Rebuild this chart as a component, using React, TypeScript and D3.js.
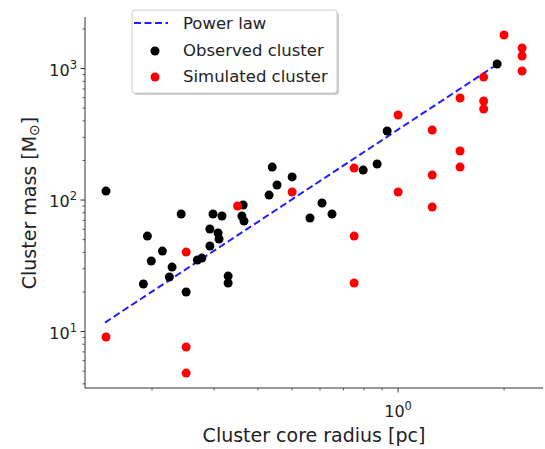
import React from "react";
import * as d3 from "d3";

const observedRadius = [0.148, 0.189, 0.194, 0.199, 0.214, 0.224, 0.228, 0.242, 0.25, 0.269, 0.277, 0.292, 0.292, 0.298, 0.308, 0.31, 0.316, 0.329, 0.329, 0.363, 0.36, 0.365, 0.43, 0.439, 0.453, 0.5, 0.562, 0.608, 0.649, 0.796, 0.872, 0.931, 1.911];
const observedMass = [117, 23.0, 53.2, 34.4, 40.9, 26.0, 30.9, 78.3, 20.0, 35.0, 36.2, 60.2, 44.7, 78.3, 56.1, 50.5, 75.6, 26.4, 23.4, 91.6, 75.6, 69.2, 109, 178, 130, 150, 73, 94.9, 78.3, 169, 188, 335, 1082];

const simulatedRadius = [0.148, 0.25, 0.25, 0.25, 0.35, 0.5, 0.75, 0.75, 0.75, 1.0, 1.0, 1.25, 1.25, 1.25, 1.5, 1.5, 1.5, 1.75, 1.75, 1.75, 2.0, 2.25, 2.25, 2.25];
const simulatedMass = [9.08, 7.62, 4.83, 40.2, 90.0, 115, 175, 53.2, 23.4, 443, 115, 341, 155, 88.5, 597, 236, 178, 861, 566, 492, 1798, 1432, 1245, 957];

const powerLawRadius = [0.147, 1.89];
const powerLawMass = [11.7, 1055];

const xMajorTicks = [1];
const xMinorTicks = [0.2, 0.3, 0.4, 0.5, 0.6, 0.7, 0.8, 0.9, 2];
const yMajorTicks = [10, 100, 1000];
const yMinorTicks = [4, 5, 6, 7, 8, 9, 20, 30, 40, 50, 60, 70, 80, 90, 200, 300, 400, 500, 600, 700, 800, 900, 2000];

const W = 545;
const H = 449;
const left = 85;
const right = 543;
const top = 17;
const bottom = 388;

const FONT = "'DejaVu Sans', sans-serif";

export default function App() {
  const x = d3.scaleLog().domain([0.129, 2.58]).range([left, right]);
  const y = d3.scaleLog().domain([3.72, 2466]).range([bottom, top]);

  const line = d3
    .line<number>()
    .x((_, i) => x(powerLawRadius[i]))
    .y((_, i) => y(powerLawMass[i]));

  const exps: Record<number, string> = { 1: "0", 10: "1", 100: "2", 1000: "3" };

  return (
    <svg
      width={W}
      height={H}
      style={{ position: "absolute", left: 0, top: 0, background: "#fff", display: "block" }}
      fontFamily={FONT}
    >
      <rect x={0} y={0} width={W} height={H} fill="#fff" />

      {/* power law */}
      <path
        d={line(powerLawRadius) || ""}
        fill="none"
        stroke="#1f1fff"
        strokeWidth={2}
        strokeDasharray="7,3.5"
      />

      {/* observed */}
      {observedRadius.map((r, i) => (
        <circle key={"o" + i} cx={x(r)} cy={y(observedMass[i])} r={4.5} fill="#000" />
      ))}
      {/* simulated */}
      {simulatedRadius.map((r, i) => (
        <circle key={"s" + i} cx={x(r)} cy={y(simulatedMass[i])} r={4.5} fill="#ff0000" />
      ))}

      {/* axes */}
      <line x1={left} x2={left} y1={top} y2={bottom} stroke="#333" strokeWidth={1} />
      <line x1={left} x2={right} y1={bottom} y2={bottom} stroke="#333" strokeWidth={1} />

      {yMajorTicks.map((t) => (
        <g key={"ym" + t}>
          <line x1={left - 4.5} x2={left} y1={y(t)} y2={y(t)} stroke="#333" strokeWidth={1} />
          <text x={left - 8} y={y(t) + 7} textAnchor="end" fontSize={16} fill="#222">
            10
            <tspan fontSize={11.5} dy={-7}>
              {exps[t]}
            </tspan>
          </text>
        </g>
      ))}
      {yMinorTicks.map((t) => (
        <line key={"yn" + t} x1={left - 2.5} x2={left} y1={y(t)} y2={y(t)} stroke="#333" strokeWidth={0.8} />
      ))}

      {xMajorTicks.map((t) => (
        <g key={"xm" + t}>
          <line x1={x(t)} x2={x(t)} y1={bottom} y2={bottom + 4.5} stroke="#333" strokeWidth={1} />
          <text x={x(t)} y={bottom + 29} textAnchor="middle" fontSize={16} fill="#222">
            10
            <tspan fontSize={11.5} dy={-7}>
              {exps[t]}
            </tspan>
          </text>
        </g>
      ))}
      {xMinorTicks.map((t) => (
        <line key={"xn" + t} x1={x(t)} x2={x(t)} y1={bottom} y2={bottom + 2.5} stroke="#333" strokeWidth={0.8} />
      ))}

      {/* axis labels */}
      <text x={314} y={442} textAnchor="middle" fontSize={19} fill="#222">
        Cluster core radius [pc]
      </text>
      <text transform={`translate(36,203) rotate(-90)`} textAnchor="middle" fontSize={19} fill="#222">
        Cluster mass [M
        <tspan fontSize={14} dy={3}>
          ⊙
        </tspan>
        <tspan dy={-3}>]</tspan>
      </text>

      {/* legend */}
      <g>
        <rect x={134} y={12} width={205} height={83} rx={3} fill="#999" opacity={0.5} />
        <rect x={132} y={10} width={205} height={83} rx={3} fill="#fff" stroke="#ccc" strokeWidth={1} />
        <line x1={134} x2={168} y1={23} y2={23} stroke="#1f1fff" strokeWidth={2} strokeDasharray="7,3.5" />
        <text x={183} y={29} fontSize={16.5} fill="#222">
          Power law
        </text>
        <circle cx={155} cy={51} r={4.5} fill="#000" />
        <text x={183} y={56} fontSize={16.5} fill="#222">
          Observed cluster
        </text>
        <circle cx={155} cy={77} r={4.5} fill="#ff0000" />
        <text x={183} y={82} fontSize={16.5} fill="#222">
          Simulated cluster
        </text>
      </g>
    </svg>
  );
}
